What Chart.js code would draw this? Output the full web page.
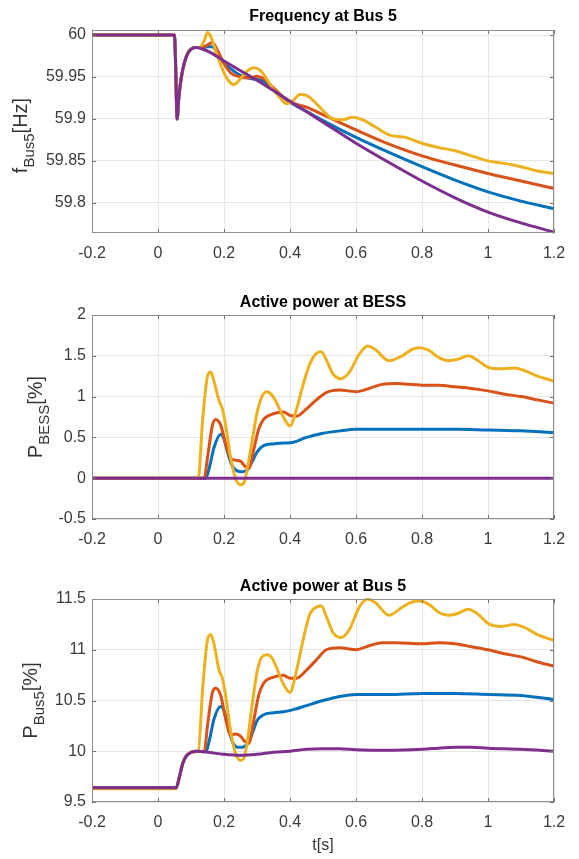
<!DOCTYPE html>
<html>
<head>
<meta charset="utf-8">
<script src="https://cdn.jsdelivr.net/npm/chart.js@4.4.1/dist/chart.umd.min.js"></script>
<style>
html,body{margin:0;padding:0;background:#fff;}
#wrap{position:relative;width:579px;height:859px;overflow:hidden;}
#wrap canvas{position:absolute;left:0;}
</style>
</head>
<body>
<div id="wrap">
<canvas id="c1" width="579" height="285" style="top:0px"></canvas>
<canvas id="c2" width="579" height="285" style="top:285px"></canvas>
<canvas id="c3" width="579" height="289" style="top:570px"></canvas>
</div>
<script>
// ---------- tick labels ----------
const xTicks = [-0.2, 0, 0.2, 0.4, 0.6, 0.8, 1, 1.2];
const xTickLabels = ['-0.2', '0', '0.2', '0.4', '0.6', '0.8', '1', '1.2'];
const freqTicks = [59.8, 59.85, 59.9, 59.95, 60];
const freqTickLabels = ['59.8', '59.85', '59.9', '59.95', '60'];
const bessTicks = [-0.5, 0, 0.5, 1, 1.5, 2];
const bessTickLabels = ['-0.5', '0', '0.5', '1', '1.5', '2'];
const busTicks = [9.5, 10, 10.5, 11, 11.5];
const busTickLabels = ['9.5', '10', '10.5', '11', '11.5'];

// ---------- Frequency at Bus 5 [Hz] ----------
const fT_purple = [-0.2, 0.05, 0.053, 0.058, 0.063, 0.07, 0.08, 0.09, 0.1, 0.115, 0.13, 0.16, 0.2, 0.3, 0.4, 0.5, 0.6, 0.7, 0.8, 0.9, 1.0, 1.1, 1.2];
const fPurple   = [60, 60, 59.97, 59.90, 59.925, 59.948, 59.967, 59.978, 59.983, 59.985, 59.984, 59.979, 59.969, 59.946, 59.921, 59.896, 59.871, 59.848, 59.826, 59.806, 59.789, 59.776, 59.765];
const fT_blue = [-0.2, 0.05, 0.053, 0.058, 0.063, 0.07, 0.08, 0.09, 0.1, 0.115, 0.13, 0.15, 0.165, 0.18, 0.2, 0.22, 0.25, 0.28, 0.3, 0.32, 0.35, 0.4, 0.45, 0.5, 0.6, 0.7, 0.8, 0.9, 1.0, 1.1, 1.2];
const fBlue   = [60, 60, 59.97, 59.90, 59.925, 59.948, 59.967, 59.978, 59.983, 59.985, 59.985, 59.986, 59.986, 59.978, 59.967, 59.96, 59.952, 59.948, 59.947, 59.945, 59.935, 59.92, 59.909, 59.898, 59.878, 59.86, 59.843, 59.827, 59.813, 59.802, 59.793];
const fT_red = [-0.2, 0.05, 0.053, 0.058, 0.063, 0.07, 0.08, 0.09, 0.1, 0.115, 0.13, 0.145, 0.165, 0.18, 0.2, 0.22, 0.25, 0.28, 0.3, 0.32, 0.35, 0.38, 0.4, 0.45, 0.5, 0.6, 0.7, 0.8, 0.9, 1.0, 1.1, 1.2];
const fRed   = [60, 60, 59.97, 59.90, 59.925, 59.948, 59.967, 59.978, 59.983, 59.985, 59.985, 59.987, 59.991, 59.982, 59.966, 59.955, 59.950, 59.949, 59.951, 59.948, 59.937, 59.926, 59.92, 59.914, 59.905, 59.887, 59.870, 59.856, 59.845, 59.835, 59.826, 59.817];
const fT_yellow = [-0.2, 0.05, 0.053, 0.058, 0.063, 0.07, 0.08, 0.09, 0.1, 0.115, 0.125, 0.14, 0.15, 0.16, 0.18, 0.2, 0.215, 0.23, 0.25, 0.27, 0.29, 0.31, 0.33, 0.35, 0.37, 0.39, 0.41, 0.43, 0.45, 0.47, 0.5, 0.53, 0.56, 0.59, 0.62, 0.66, 0.7, 0.75, 0.8, 0.85, 0.9, 0.95, 1.0, 1.05, 1.1, 1.15, 1.2];
const fYellow   = [60, 60, 59.97, 59.90, 59.925, 59.948, 59.967, 59.978, 59.983, 59.985, 59.985, 59.993, 60.003, 59.998, 59.975, 59.955, 59.945, 59.941, 59.948, 59.957, 59.961, 59.958, 59.947, 59.935, 59.925, 59.918, 59.922, 59.929, 59.928, 59.922, 59.91, 59.9, 59.899, 59.902, 59.899, 59.89, 59.881, 59.878, 59.871, 59.866, 59.862, 59.856, 59.850, 59.847, 59.843, 59.838, 59.835];

// ---------- Active power at BESS [%] ----------
const bT_purple = [-0.2, 1.2];
const bPurple   = [0, 0];
const bT_blue = [-0.2, 0.145, 0.155, 0.17, 0.19, 0.2, 0.21, 0.225, 0.24, 0.255, 0.27, 0.285, 0.3, 0.32, 0.35, 0.38, 0.41, 0.45, 0.5, 0.55, 0.6, 0.7, 0.8, 0.9, 1.0, 1.1, 1.2];
const bBlue   = [0, 0, 0.12, 0.38, 0.54, 0.48, 0.33, 0.15, 0.09, 0.08, 0.1, 0.2, 0.32, 0.4, 0.42, 0.43, 0.44, 0.5, 0.55, 0.58, 0.6, 0.6, 0.6, 0.6, 0.59, 0.58, 0.56];
const bT_red = [-0.2, 0.14, 0.15, 0.165, 0.175, 0.19, 0.205, 0.22, 0.235, 0.25, 0.262, 0.275, 0.29, 0.305, 0.32, 0.35, 0.38, 0.4, 0.42, 0.45, 0.48, 0.51, 0.55, 0.6, 0.64, 0.68, 0.72, 0.8, 0.85, 0.9, 0.95, 1.0, 1.05, 1.1, 1.15, 1.2];
const bRed   = [0, 0, 0.25, 0.65, 0.72, 0.65, 0.42, 0.25, 0.22, 0.21, 0.15, 0.12, 0.35, 0.6, 0.72, 0.79, 0.81, 0.77, 0.76, 0.85, 0.96, 1.05, 1.08, 1.06, 1.1, 1.15, 1.16, 1.14, 1.14, 1.12, 1.1, 1.07, 1.03, 1.0, 0.96, 0.92];
const bT_yellow = [-0.2, 0.122, 0.135, 0.15, 0.16, 0.17, 0.185, 0.195, 0.205, 0.22, 0.235, 0.25, 0.26, 0.27, 0.285, 0.3, 0.315, 0.33, 0.345, 0.36, 0.38, 0.4, 0.42, 0.44, 0.46, 0.48, 0.495, 0.51, 0.53, 0.555, 0.58, 0.61, 0.635, 0.66, 0.7, 0.74, 0.77, 0.79, 0.82, 0.85, 0.88, 0.91, 0.94, 0.97, 1.0, 1.04, 1.08, 1.11, 1.15, 1.2];
const bYellow   = [0, 0, 0.7, 1.25, 1.3, 1.18, 0.95, 0.85, 0.65, 0.25, 0.0, -0.08, -0.06, 0.1, 0.45, 0.8, 1.0, 1.06, 1.02, 0.92, 0.75, 0.64, 0.85, 1.15, 1.4, 1.53, 1.55, 1.45, 1.28, 1.22, 1.3, 1.52, 1.62, 1.57, 1.44, 1.5, 1.58, 1.6, 1.57, 1.48, 1.44, 1.46, 1.5, 1.44, 1.36, 1.34, 1.35, 1.32, 1.25, 1.19];

// ---------- Active power at Bus 5 [%] ----------
const pT_purple = [-0.2, 0.055, 0.065, 0.075, 0.085, 0.1, 0.12, 0.15, 0.2, 0.25, 0.3, 0.35, 0.4, 0.45, 0.5, 0.55, 0.6, 0.7, 0.8, 0.85, 0.9, 0.95, 1.0, 1.1, 1.2];
const pPurple   = [9.64, 9.64, 9.75, 9.88, 9.95, 9.99, 10.0, 9.99, 9.97, 9.96, 9.97, 9.99, 10.0, 10.02, 10.025, 10.025, 10.015, 10.01, 10.02, 10.03, 10.04, 10.04, 10.03, 10.02, 10.0];
const pT_blue = [-0.2, 0.055, 0.065, 0.075, 0.085, 0.1, 0.12, 0.145, 0.155, 0.17, 0.19, 0.2, 0.21, 0.225, 0.24, 0.255, 0.27, 0.285, 0.3, 0.32, 0.35, 0.38, 0.41, 0.45, 0.5, 0.55, 0.6, 0.7, 0.8, 0.9, 1.0, 1.1, 1.2];
const pBlue   = [9.64, 9.64, 9.75, 9.88, 9.95, 9.99, 10.0, 9.995, 10.1, 10.32, 10.44, 10.4, 10.28, 10.1, 10.04, 10.04, 10.07, 10.17, 10.3, 10.36, 10.38, 10.39, 10.41, 10.45, 10.5, 10.54, 10.56, 10.56, 10.57, 10.57, 10.56, 10.55, 10.51];
const pT_red = [-0.2, 0.055, 0.065, 0.075, 0.085, 0.1, 0.12, 0.14, 0.15, 0.165, 0.175, 0.19, 0.205, 0.22, 0.235, 0.25, 0.262, 0.275, 0.29, 0.305, 0.32, 0.35, 0.38, 0.4, 0.42, 0.45, 0.48, 0.51, 0.55, 0.6, 0.64, 0.68, 0.72, 0.8, 0.85, 0.9, 0.95, 1.0, 1.05, 1.1, 1.15, 1.2];
const pRed   = [9.64, 9.64, 9.75, 9.88, 9.95, 9.99, 10.0, 9.995, 10.25, 10.58, 10.62, 10.55, 10.32, 10.16, 10.17, 10.15, 10.1, 10.08, 10.3, 10.55, 10.67, 10.73, 10.75, 10.72, 10.72, 10.8, 10.9, 11.0, 11.02, 11.0, 11.04, 11.07, 11.07, 11.06, 11.07, 11.06, 11.03, 11.0, 10.96, 10.93, 10.88, 10.84];
const pT_yellow = [-0.2, 0.055, 0.065, 0.075, 0.085, 0.1, 0.122, 0.135, 0.15, 0.16, 0.17, 0.185, 0.195, 0.205, 0.22, 0.235, 0.25, 0.26, 0.27, 0.285, 0.3, 0.315, 0.33, 0.345, 0.36, 0.38, 0.4, 0.42, 0.44, 0.46, 0.48, 0.495, 0.51, 0.53, 0.555, 0.58, 0.61, 0.635, 0.66, 0.7, 0.74, 0.77, 0.79, 0.82, 0.85, 0.88, 0.91, 0.94, 0.97, 1.0, 1.04, 1.08, 1.11, 1.15, 1.2];
const pYellow   = [9.63, 9.63, 9.75, 9.88, 9.95, 9.99, 10.0, 10.6, 11.1, 11.15, 11.05, 10.8, 10.72, 10.55, 10.2, 9.98, 9.91, 9.93, 10.08, 10.45, 10.78, 10.93, 10.95, 10.92, 10.82, 10.66, 10.58, 10.8, 11.1, 11.35, 11.42, 11.43, 11.33, 11.17, 11.12, 11.2, 11.42, 11.5, 11.46, 11.34, 11.42, 11.47, 11.48, 11.45, 11.37, 11.34, 11.36, 11.4, 11.35, 11.26, 11.23, 11.25, 11.22, 11.15, 11.09];

// ---------- styling ----------
const C_BLUE = '#0072BD', C_RED = '#D95319', C_YEL = '#EDB120', C_PUR = '#7E2F8E';
const FONT = '"Liberation Sans", Arial, Helvetica, sans-serif';
const TICK_COLOR = '#3a3a3a';
const GRID_COLOR = '#e6e6e6';

const decor = {
  id: 'decor',
  afterDraw(chart, args, o) {
    const {ctx, chartArea: a, scales: {x, y}} = chart;
    ctx.save();
    ctx.strokeStyle = '#707070'; ctx.lineWidth = 1;
    ctx.beginPath();
    xTicks.forEach(v => {
      const px = Math.round(x.getPixelForValue(v)) + 0.5;
      ctx.moveTo(px, a.bottom); ctx.lineTo(px, a.bottom - 4);
      ctx.moveTo(px, a.top); ctx.lineTo(px, a.top + 4);
    });
    o.yTicks.forEach(v => {
      const py = Math.round(y.getPixelForValue(v)) + 0.5;
      ctx.moveTo(a.left, py); ctx.lineTo(a.left + 4, py);
      ctx.moveTo(a.right, py); ctx.lineTo(a.right - 4, py);
    });
    ctx.stroke();
    ctx.strokeStyle = '#8c8c8c';
    ctx.strokeRect(Math.round(a.left) + 0.5, Math.round(a.top) + 0.5, Math.round(a.right - a.left) - 1, Math.round(a.bottom - a.top) - 1);
    ctx.fillStyle = '#000';
    ctx.font = 'bold 16px ' + FONT;
    ctx.textAlign = 'center'; ctx.textBaseline = 'middle';
    ctx.fillText(o.title, (a.left + a.right) / 2, o.titleY);
    const fMain = '20px ' + FONT, fSub = '15px ' + FONT;
    ctx.font = fMain;
    const w1 = ctx.measureText(o.yMain).width, w3 = ctx.measureText(o.yRest).width;
    ctx.font = fSub;
    const w2 = ctx.measureText(o.ySub).width;
    ctx.translate(o.yLabelX, (a.top + a.bottom) / 2 + (o.yLabelDy || 0));
    ctx.rotate(-Math.PI / 2);
    ctx.fillStyle = '#333';
    ctx.textAlign = 'left'; ctx.textBaseline = 'alphabetic';
    let sx = -(w1 + w2 + w3) / 2;
    ctx.font = fMain; ctx.fillText(o.yMain, sx, 0); sx += w1;
    ctx.font = fSub; ctx.fillText(o.ySub, sx, o.subDrop); sx += w2;
    ctx.font = fMain; ctx.fillText(o.yRest, sx, 0);
    ctx.restore();
  }
};

function series(t, v, color, order) {
  const n = Math.min(t.length, v.length);
  const pts = [];
  for (let i = 0; i < n; i++) pts.push({x: t[i], y: v[i]});
  return {data: pts, borderColor: color, backgroundColor: color, borderWidth: 3,
          pointRadius: 0, cubicInterpolationMode: 'monotone', fill: false, order: order, clip: 1};
}

function makeChart(id, datasets, cfg) {
  return new Chart(document.getElementById(id), {
    type: 'line',
    data: {datasets: datasets},
    options: {
      responsive: false, animation: false, events: [],
      layout: {padding: {left: 0, right: 25, top: cfg.top, bottom: 0}},
      plugins: {
        legend: {display: false}, tooltip: {enabled: false}, title: {display: false},
        decor: {title: cfg.title, titleY: cfg.titleY, yTicks: cfg.yTicks,
                yMain: cfg.yMain, ySub: cfg.ySub, yRest: cfg.yRest, yLabelX: cfg.yLabelX, subDrop: cfg.subDrop, yLabelDy: cfg.yLabelDy}
      },
      scales: {
        x: {
          type: 'linear', min: -0.2, max: 1.2,
          afterBuildTicks: s => { s.ticks = xTicks.map(v => ({value: v})); },
          afterFit: s => { s.height = cfg.xh; },
          grid: {color: GRID_COLOR, drawTicks: false},
          border: {display: false},
          ticks: {font: {size: 16, family: FONT}, color: TICK_COLOR, padding: 11, maxRotation: 0, autoSkip: false,
                  callback: (v, i) => xTickLabels[i]},
          title: cfg.xTitle ? {display: true, text: cfg.xTitle, font: {size: 16, family: FONT}, color: '#333', padding: {top: 0, bottom: 4}} : {display: false}
        },
        y: {
          type: 'linear', min: cfg.yMin, max: cfg.yMax,
          afterBuildTicks: s => { s.ticks = cfg.yTicks.map(v => ({value: v})); },
          afterFit: s => { s.width = 92; },
          grid: {color: GRID_COLOR, drawTicks: false},
          border: {display: false},
          ticks: {font: {size: 16, family: FONT}, color: TICK_COLOR, padding: 6, autoSkip: false,
                  callback: (v, i) => cfg.yTickLabels[i]}
        }
      }
    },
    plugins: [decor]
  });
}

makeChart('c1', [
  series(fT_purple, fPurple, C_PUR, 0),
  series(fT_yellow, fYellow, C_YEL, 1),
  series(fT_red, fRed, C_RED, 2),
  series(fT_blue, fBlue, C_BLUE, 3)
], {top: 30, xh: 52, yMin: 59.764, yMax: 60.006, yTicks: freqTicks, yTickLabels: freqTickLabels,
    title: 'Frequency at Bus 5', titleY: 17, yMain: 'f', ySub: 'Bus5', yRest: '[Hz]', yLabelX: 27, subDrop: 7, yLabelDy: 4});

makeChart('c2', [
  series(bT_purple, bPurple, C_PUR, 0),
  series(bT_yellow, bYellow, C_YEL, 1),
  series(bT_red, bRed, C_RED, 2),
  series(bT_blue, bBlue, C_BLUE, 3)
], {top: 30, xh: 51, yMin: -0.5, yMax: 2, yTicks: bessTicks, yTickLabels: bessTickLabels,
    title: 'Active power at BESS', titleY: 18, yMain: 'P', ySub: 'BESS', yRest: '[%]', yLabelX: 42, subDrop: 7, yLabelDy: 0});

makeChart('c3', [
  series(pT_purple, pPurple, C_PUR, 0),
  series(pT_yellow, pYellow, C_YEL, 1),
  series(pT_red, pRed, C_RED, 2),
  series(pT_blue, pBlue, C_BLUE, 3)
], {top: 29, xh: 57, yMin: 9.5, yMax: 11.5, yTicks: busTicks, yTickLabels: busTickLabels,
    title: 'Active power at Bus 5', titleY: 17, yMain: 'P', ySub: 'Bus5', yRest: '[%]', yLabelX: 37, subDrop: 7, yLabelDy: 0,
    xTitle: 't[s]'});
</script>
</body>
</html>
